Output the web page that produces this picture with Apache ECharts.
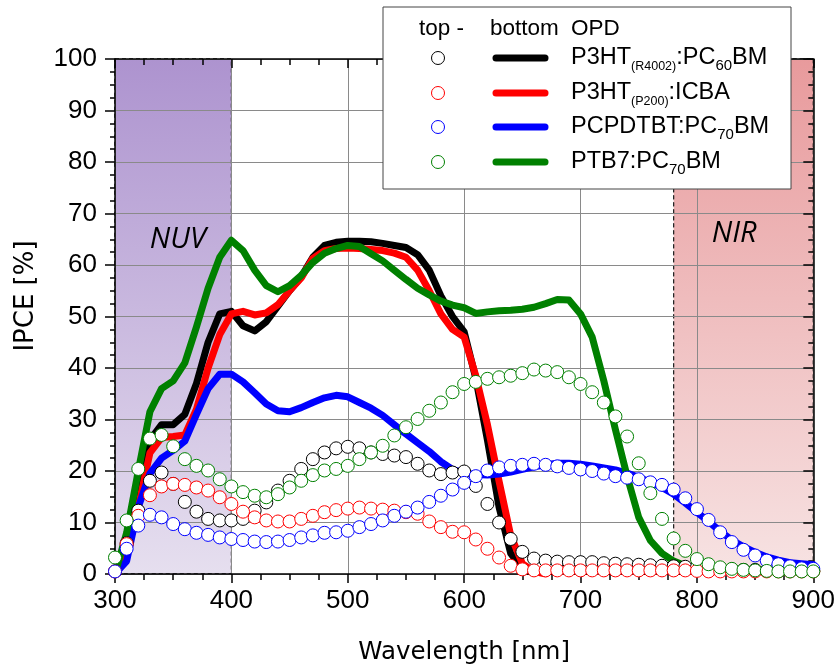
<!DOCTYPE html>
<html><head><meta charset="utf-8">
<script src="https://cdn.jsdelivr.net/npm/echarts@6/dist/echarts.min.js"></script>
<style>html,body{margin:0;padding:0;background:#fff}#c{width:838px;height:670px}</style>
</head><body><div id="c"></div>
<script>
// ---- data ----
const wavelengths = [];
for (let w = 300; w <= 900; w += 10) wavelengths.push(w);

// bottom-illuminated OPD (lines), starting at 300 nm, 10 nm step
const blackLine = [0,5,14,26,29,29,31,37,45,50.5,51,48.2,47.2,49,52,55,57.7,61.5,63.8,64.4,64.6,64.6,64.5,64.2,63.8,63.4,62,59,54,50,47,38,26,13,4,1,0.2];
const redLine = [0,4,13,23.5,26.5,26.7,27,32,40,46.5,50.5,51,50.3,50.7,52.3,55,57.5,61.3,62.8,63.2,63.3,63.2,63,62.8,62.3,61.5,59,55,50.5,47.5,46,38.5,29,18,7.5,2,0.5,0];
const blueLine = [0,2.5,13,19.5,22.5,24,25.8,31,36,38.8,38.8,37.3,35.2,33,31.7,31.5,32.3,33.3,34.2,34.7,34.4,33.3,32.2,30.8,29,27.2,25.5,23.8,21.8,20.3,19.6,19.3,19.2,19.4,19.8,20.3,20.8,21.2,21.5,21.5,21.3,21,20.6,20.2,19.6,18.8,17.8,16.8,15.5,13.8,12,10.2,8.3,6.6,5.3,4.2,3.3,2.7,2.2,2,1.8];
const greenLine = [0,8,20,31.5,36,37.5,41,48,55.5,61.5,64.8,62.8,59,56,54.8,56,58,60.5,62.3,63.2,63.8,63.6,62.2,60.8,59,57.2,55.5,54.2,53,52.2,51.7,50.6,50.9,51.1,51.2,51.4,51.8,52.5,53.3,53.2,50.5,46,37.5,28,19,11,6.5,4,2.5,1.6,1];

// top-illuminated OPD (circles), 300..900 nm, 10 nm step
const blackTop = [0.5,6,12.3,18.1,19.7,17.5,14,12.1,10.7,10.4, 10.4,10.7,12.3,13.9,16.2,18.1,20.4,22.3,23.6,24.4, 24.7,24.4,23.6,23.3,23,22.7,21.4,20.1,19.4,19.7, 19.9,17.1,13.6,10,6.8,4.3,3,2.6,2.4,2.3, 2.3,2.3,2.1,2,1.9,1.8,1.7,1.6,1.5,1.4, 1.3,1.1,1,0.9,0.8,0.8,0.7,0.7,0.6,0.6, 0.6];
const redTop = [0.5,5.8,11.3,15.3,17,17.5,17.3,16.8,16.2,14.9, 13.6,12.1,11,10.4,10.2,10.2,10.7,11.3,12,12.4, 12.7,12.9,12.7,12.5,12.3,12,11.7,10.2,9.1,8.2, 8.1,6.7,4.9,3.2,1.6,0.9,0.7,0.7,0.7,0.7, 0.7,0.7,0.7,0.7,0.7,0.7,0.7,0.7,0.7,0.7, 0.6,0.5,0.5,0.5,0.5,0.5,0.5,0.5,0.5,0.5, 0.5];
const blueTop = [0.5,4.9,9.4,11.5,11,9.7,8.7,8,7.6,7.1, 6.8,6.6,6.3,6.2,6.3,6.6,7.1,7.5,8,8.1, 8.4,9.1,9.7,10.4,11.3,12.1,12.9,14,15.2,16.4, 17.7,19,20.1,20.7,21,21.2,21.4,21.2,20.9,20.6, 20.3,20,19.5,19,18.7,18.4,17.8,17.3,16.4,14.7, 12.6,10.5,8.1,6.2,4.7,3.6,2.6,1.9,1.5,1.1, 1];
const greenTop = [3.2,10.4,20.4,26.3,27,24.8,22.3,21,20.1,18.4, 17,15.9,15.2,14.9,15.5,16.8,18.1,19.2,20.1,20.4, 21,22.3,23.6,24.9,26.9,28.5,30.1,31.7,33.3,35.3, 36.9,37.3,37.9,38.2,38.5,39,39.7,39.5,39.2,38.2, 36.9,35.3,33.3,30.6,26.7,21.5,15.7,10.7,6.9,4.5, 2.9,1.9,1.3,1,0.8,0.7,0.6,0.5,0.5,0.5, 0.5];

const xTicks = [300, 900, 100];   // min, max, interval
const yTicks = [0, 100, 10];
const nuvRange = [300, 400];
const nirRange = [780, 900];
const regionLabels = ['NUV', 'NIR'];
const legendHeader = ['top -', 'bottom', 'OPD'];
const seriesNames = ['P3HT(R4002):PC60BM', 'P3HT(P200):ICBA', 'PCPDTBT:PC70BM', 'PTB7:PC70BM'];
const legendRich = [
  '{m|P3HT}{s|(R4002)}{m|:PC}{b|60}{m|BM}',
  '{m|P3HT}{s|(P200)}{m|:ICBA}',
  '{m|PCPDTBT:PC}{b|70}{m|BM}',
  '{m|PTB7:PC}{b|70}{m|BM}'
];
const colors = ['#000000', '#ff0000', '#0000ff', '#008000'];

// ---- chart ----
const pair = arr => arr.map((v, i) => [wavelengths[i], v]);
const chart = echarts.init(document.getElementById('c'));

const tickLine = {color: '#000', width: 1.5};
function xAx(pos) {
  const bottom = pos === 'bottom';
  return {
    type: 'value', position: pos, min: xTicks[0], max: xTicks[1], interval: xTicks[2], z: 3,
    axisLine: {show: true, onZero: false, lineStyle: tickLine},
    axisTick: {show: true, inside: !bottom, length: 9, lineStyle: tickLine},
    minorTick: {show: true, splitNumber: 4, length: 6, lineStyle: tickLine},
    splitLine: {show: bottom, lineStyle: {color: '#8a8a8a', width: 1}},
    minorSplitLine: {show: false},
    axisLabel: {show: bottom, fontFamily: 'Liberation Sans', fontSize: 26, color: '#000', margin: 14},
    name: bottom ? 'Wavelength [nm]' : '', nameLocation: 'middle', nameGap: 66,
    nameTextStyle: {fontFamily: 'DejaVu Sans', fontSize: 24.5, color: '#000'}
  };
}
function yAx(pos) {
  const left = pos === 'left';
  return {
    type: 'value', position: pos, min: yTicks[0], max: yTicks[1], interval: yTicks[2], z: 3,
    axisLine: {show: true, onZero: false, lineStyle: tickLine},
    axisTick: {show: true, inside: !left, length: 10, lineStyle: tickLine},
    minorTick: {show: true, splitNumber: 4, length: 5, lineStyle: tickLine},
    splitLine: {show: left, lineStyle: {color: '#8a8a8a', width: 1}},
    minorSplitLine: {show: false},
    axisLabel: {show: left, fontFamily: 'Liberation Sans', fontSize: 26, color: '#000', margin: 18}
  };
}

const areaGrad = (top, bottom) => new echarts.graphic.LinearGradient(0, 0, 0, 1, [{offset: 0, color: top}, {offset: 1, color: bottom}]);

const series = [{
  type: 'line', data: [], z: 1, silent: true,
  markArea: {
    silent: true, z: 1,
    data: [
      [{coord: [nuvRange[0], yTicks[1]], itemStyle: {color: areaGrad('#ad93cf', '#e6dfef'), borderColor: '#222', borderWidth: 1, borderType: [4, 3]}}, {coord: [nuvRange[1], yTicks[0]]}],
      [{coord: [nirRange[0], yTicks[1]], itemStyle: {color: areaGrad('#e89a9c', '#f7e3e3'), borderColor: '#222', borderWidth: 1, borderType: [4, 3]}}, {coord: [nirRange[1], yTicks[0]]}]
    ],
    label: {show: false}
  }
}];
const lines = [blackLine, redLine, blueLine, greenLine];
lines.forEach((arr, i) => series.push({
  type: 'line', name: seriesNames[i] + ' bottom', data: pair(arr), symbol: 'none', z: 5 + i,
  lineStyle: {color: colors[i], width: 7, cap: 'round', join: 'round'}
}));
const tops = [blackTop, redTop, blueTop, greenTop];
tops.forEach((arr, i) => series.push({
  type: 'scatter', name: seriesNames[i] + ' top', data: pair(arr), symbol: 'circle', symbolSize: 13, z: 10 + i,
  itemStyle: {color: '#fff', borderColor: colors[i], borderWidth: 1, opacity: 1}
}));

chart.setOption({
  animation: false,
  grid: {left: 115, top: 59, width: 699, height: 515, containLabel: false},
  xAxis: [xAx('bottom'), xAx('top')],
  yAxis: [yAx('left'), yAx('right')],
  series: series
});

// ---- legend box & annotations ----
const rowY = [58, 93, 127, 162];
const g = [];
g.push({type: 'rect', shape: {x: 383, y: 7, width: 408, height: 182}, style: {fill: '#fff', stroke: '#444', lineWidth: 1}, z: 100});
const hx = [419, 490, 571];
legendHeader.forEach((t, i) => g.push({type: 'text', x: hx[i], y: 28.5, z: 101,
  style: {text: t, fontFamily: 'Liberation Sans', fontSize: 22.5, fill: '#000', verticalAlign: 'middle', align: 'left'}}));
rowY.forEach((y, i) => {
  g.push({type: 'circle', shape: {cx: 438, cy: y, r: 6.5}, style: {fill: '#fff', stroke: colors[i], lineWidth: 1}, z: 101});
  g.push({type: 'line', shape: {x1: 496, y1: y, x2: 545, y2: y}, style: {stroke: colors[i], lineWidth: 7, lineCap: 'round'}, z: 101});
  g.push({type: 'text', x: 571, y: y, z: 101, style: {
    text: legendRich[i], verticalAlign: 'middle', align: 'left', fill: '#000',
    rich: {
      m: {fontFamily: 'Liberation Sans', fontSize: 23.5, lineHeight: 30, verticalAlign: 'middle', fill: '#000'},
      b: {fontFamily: 'Liberation Sans', fontSize: 15, lineHeight: 14, verticalAlign: 'bottom', fill: '#000'},
      s: {fontFamily: 'Liberation Sans', fontSize: 12.5, lineHeight: 13, verticalAlign: 'bottom', fill: '#000'}
    }}});
});
g.push({type: 'text', x: 26, y: 296, rotation: Math.PI / 2, z: 50,
  style: {text: 'IPCE [%]', fontFamily: 'DejaVu Sans', fontSize: 26, fill: '#000', align: 'center', verticalAlign: 'middle'}});
const nuvPos = chart.convertToPixel({gridIndex: 0}, [354, 65]);
const nirPos = chart.convertToPixel({gridIndex: 0}, [832, 66]);
[nuvPos, nirPos].forEach((p, i) => g.push({type: 'text', x: p[0], y: p[1], z: 50,
  style: {text: regionLabels[i], fontFamily: 'Open Sans', fontStyle: 'italic', fontSize: 29, fill: '#000', align: 'center', verticalAlign: 'middle'}}));
chart.setOption({graphic: g});
</script></body></html>
